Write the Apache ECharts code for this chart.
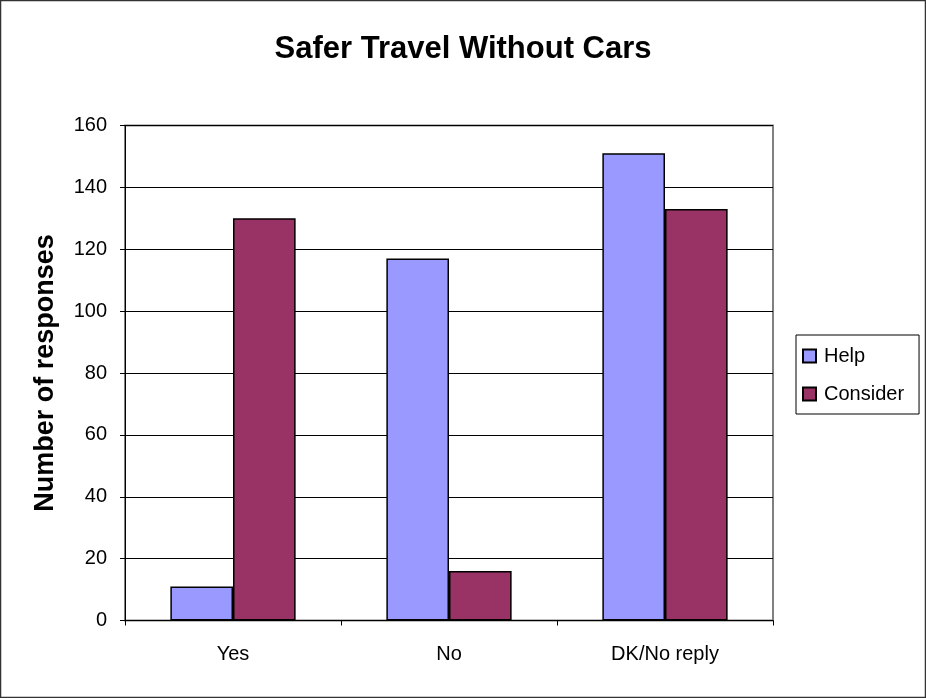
<!DOCTYPE html>
<html>
<head>
<meta charset="utf-8">
<script src="https://cdn.jsdelivr.net/npm/echarts@6/dist/echarts.min.js"></script>
<style>
html,body{margin:0;padding:0;background:#fff;}
#c{width:926px;height:698px;}
</style>
</head>
<body>
<div id="c"></div>
<script>
var categories = ['Yes', 'No', 'DK/No reply'];
var helpValues = [11, 117, 151];
var considerValues = [130, 16, 133];
var yTicks = [0, 20, 40, 60, 80, 100, 120, 140, 160];

var chart = echarts.init(document.getElementById('c'), null, {renderer: 'canvas'});
var font = 'Liberation Sans, Arial, sans-serif';
chart.setOption({
  animation: false,
  backgroundColor: '#fff',
  textStyle: {fontFamily: font},
  title: {
    text: 'Safer Travel Without Cars',
    left: 'center',
    top: 29,
    textStyle: {fontSize: 31, fontWeight: 'bold', color: '#000', fontFamily: font}
  },
  graphic: [{
    type: 'rect',
    shape: {x: 0.5, y: 0.5, width: 925, height: 697},
    style: {fill: 'none', stroke: '#333', lineWidth: 1.5},
    silent: true
  }],
  legend: {
    orient: 'vertical',
    left: 796,
    top: 335,
    padding: [11, 15, 10, 6],
    itemGap: 18,
    itemWidth: 13,
    itemHeight: 13,
    borderColor: '#000',
    borderWidth: 1,
    borderRadius: 0,
    icon: 'rect',
    textStyle: {fontSize: 20, color: '#000', fontFamily: font, padding: [0, 0, 0, 3]},
    data: ['Help', 'Consider']
  },
  grid: {
    left: 125, right: 153, top: 125.5, bottom: 77.5,
    show: true,
    borderColor: '#808080',
    borderWidth: 2,
    backgroundColor: 'transparent'
  },
  xAxis: {
    type: 'category',
    data: categories,
    axisLine: {lineStyle: {color: '#000', width: 1}},
    axisTick: {show: true, length: 5, lineStyle: {color: '#000'}},
    axisLabel: {fontSize: 20, color: '#000', margin: 24, fontFamily: font},
    splitLine: {show: false}
  },
  yAxis: {
    type: 'value',
    min: yTicks[0],
    max: yTicks[yTicks.length - 1],
    interval: 20,
    name: 'Number of responses',
    nameLocation: 'middle',
    nameGap: 66,
    nameTextStyle: {fontSize: 27, fontWeight: 'bold', color: '#000', fontFamily: font},
    axisLine: {show: true, lineStyle: {color: '#000', width: 1}},
    axisTick: {show: true, length: 5, lineStyle: {color: '#000'}},
    axisLabel: {fontSize: 20, color: '#000', margin: 18, fontFamily: font},
    splitLine: {show: true, lineStyle: {color: '#000', width: 1}}
  },
  series: [{
    name: 'Help',
    type: 'bar',
    data: helpValues,
    barGap: '0%',
    barCategoryGap: '42%',
    itemStyle: {color: '#9999FF', borderColor: '#000', borderWidth: 1.5}
  }, {
    name: 'Consider',
    type: 'bar',
    data: considerValues,
    barGap: '0%',
    barCategoryGap: '42%',
    itemStyle: {color: '#993366', borderColor: '#000', borderWidth: 1.5}
  }]
});
</script>
</body>
</html>
